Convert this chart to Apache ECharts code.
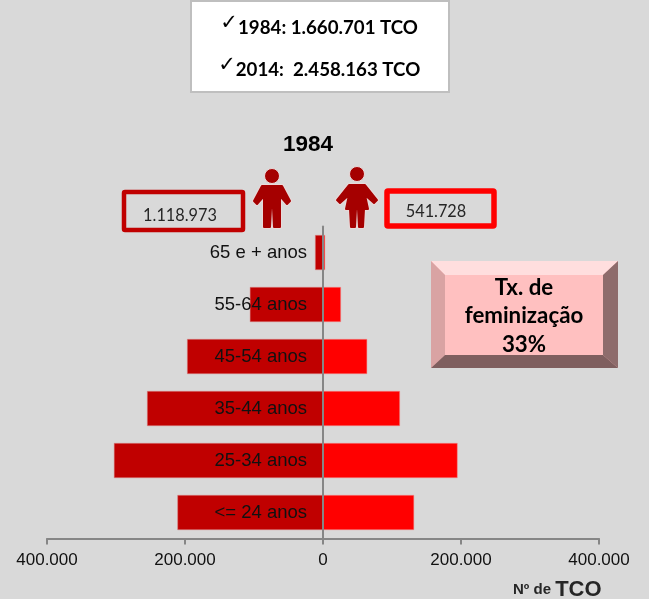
<!DOCTYPE html>
<html>
<head>
<meta charset="utf-8">
<style>
  html, body { margin: 0; padding: 0; background: #d9d9d9; }
  #chart { width: 649px; height: 599px; }
</style>
<script src="https://cdn.jsdelivr.net/npm/echarts@6/dist/echarts.min.js"></script>
</head>
<body>
<div id="chart"></div>
<script>
var categories = ['65 e + anos', '55-64 anos', '45-54 anos', '35-44 anos', '25-34 anos', '<= 24 anos']
var homens = [11500, 106000, 197000, 255000, 303000, 211000]
var mulheres = [3000, 26000, 64000, 111500, 195000, 132000]
var xTicks = [-400000, -200000, 0, 200000, 400000]
var totalHomens = '1.118.973'
var totalMulheres = '541.728'

function fmt(v) {
  var s = String(Math.abs(v))
  return s.replace(/\B(?=(\d{3})+$)/g, '.')
}

function box(x, y, w, h, color, lw) {
  return {
    type: 'rect',
    shape: { x: x, y: y, width: w, height: h, r: 1 },
    style: { fill: 'none', stroke: color, lineWidth: lw }
  }
}

function txt(x, y, text, font, color, align) {
  return {
    type: 'text',
    x: x,
    y: y,
    style: { text: text, font: font, fill: color || '#000', align: align || 'center', verticalAlign: 'middle' }
  }
}

function poly(points, fill) {
  return { type: 'polygon', shape: { points: points }, style: { fill: fill } }
}

var iconColor = '#a50000'
var iconHalo = '#eadada'

// silhueta: halo claro por baixo e forma por cima
function figure(cx, cy, body) {
  var points = body.map(function (p) { return [cx + p[0], p[1]] })
  return [
    { type: 'circle', shape: { cx: cx, cy: cy, r: 7.5 }, style: { fill: iconColor, stroke: iconHalo, lineWidth: 1 } },
    { type: 'polygon', shape: { points: points }, style: { fill: iconHalo, stroke: iconHalo, lineWidth: 4, lineJoin: 'round' } },
    { type: 'polygon', shape: { points: points }, style: { fill: iconColor, stroke: iconColor, lineWidth: 2, lineJoin: 'round' } }
  ]
}

var manBody = [[-10, 186], [10, 186], [18, 201], [15, 204], [8, 196], [8, 227], [2, 227], [1, 208], [-1, 208], [-2, 227], [-8, 227], [-8, 196], [-15, 204], [-18, 201]]
var womanBody = [[-8, 185], [8, 185], [20, 200], [17, 203], [8, 195], [11, 209], [7, 209], [6, 227], [2, 227], [1, 209], [-1, 209], [-2, 227], [-6, 227], [-7, 209], [-11, 209], [-8, 195], [-17, 203], [-20, 200]]

var chart = echarts.init(document.getElementById('chart'))

chart.setOption({
  backgroundColor: '#d9d9d9',
  animation: false,
  grid: { left: 47, top: 226.5, width: 552, height: 312, outerBoundsMode: 'none' },
  xAxis: {
    type: 'value',
    min: xTicks[0],
    max: xTicks[xTicks.length - 1],
    interval: 200000,
    splitLine: { show: false },
    axisLine: { show: true, lineStyle: { color: '#868686', width: 2 } },
    axisTick: { show: true, length: 6, lineStyle: { color: '#868686', width: 2 } },
    axisLabel: {
      formatter: fmt,
      margin: 13,
      color: '#111',
      fontFamily: 'Liberation Sans',
      fontSize: 17,
      showMinLabel: true,
      showMaxLabel: true
    }
  },
  yAxis: {
    type: 'category',
    data: categories,
    inverse: true,
    z: 5,
    axisLine: { show: true, lineStyle: { color: '#868686', width: 2 } },
    axisTick: { show: false },
    axisLabel: {
      // rotulos junto ao eixo do zero, por cima das barras
      margin: -260,
      padding: [3, 0, 0, 0],
      color: '#111',
      fontFamily: 'Liberation Sans',
      fontSize: 18.5
    }
  },
  series: [
    {
      name: 'Homens',
      type: 'bar',
      stack: 'total',
      data: homens.map(function (v) { return -v }),
      barWidth: 35,
      itemStyle: { color: '#c00000', borderColor: '#d88a8a', borderWidth: 0.5 }
    },
    {
      name: 'Mulheres',
      type: 'bar',
      stack: 'total',
      data: mulheres,
      barWidth: 35,
      itemStyle: { color: '#ff0000', borderColor: '#f09090', borderWidth: 0.5 }
    }
  ],
  graphic: [
    {
      type: 'rect',
      shape: { x: 191, y: 1, width: 258, height: 91 },
      style: { fill: '#fff', stroke: '#bfbfbf', lineWidth: 2 }
    },
    txt(229, 24, '✓', '21px "DejaVu Sans"'),
    txt(328, 28, '1984: 1.660.701 TCO', 'bold 18.7px Lato'),
    txt(227, 66, '✓', '21px "DejaVu Sans"'),
    txt(328, 70, '2014:  2.458.163 TCO', 'bold 18.7px Lato'),
    txt(308, 145, '1984', 'bold 22.5px "Liberation Sans"'),
    box(124, 192, 119, 38, '#c00000', 4.5),
    box(387, 191, 107, 35, '#ff0000', 5.5),
    txt(180, 216, totalHomens, '16.3px Lato', '#262626'),
    txt(436, 212, totalMulheres, '16.3px Lato', '#262626')
  ]
    .concat(figure(272, 176, manBody))
    .concat(figure(357, 174, womanBody))
    .concat([
      // caixa biselada
      { type: 'rect', shape: { x: 431, y: 261, width: 187, height: 107 }, style: { fill: '#ffc0c0' } },
      poly([[431, 261], [618, 261], [603, 275], [445, 275]], '#ffdede'),
      poly([[431, 261], [445, 275], [445, 355], [431, 368]], '#d9a3a3'),
      poly([[618, 261], [603, 275], [603, 355], [618, 368]], '#8e6c6c'),
      poly([[431, 368], [445, 355], [603, 355], [618, 368]], '#7f5f5f'),
      txt(524, 288, 'Tx. de', 'bold 22.3px Lato'),
      txt(524, 316, 'feminização', 'bold 22.3px Lato'),
      txt(524, 345, '33%', 'bold 22.3px Lato'),
      {
        type: 'text',
        x: 513,
        y: 590,
        style: {
          text: '{a|Nº de }{b|TCO}',
          align: 'left',
          verticalAlign: 'middle',
          rich: {
            a: { font: 'bold 15px "Liberation Sans"', fill: '#262626' },
            b: { font: 'bold 22px "Liberation Sans"', fill: '#262626' }
          }
        }
      }
    ])
})
</script>
</body>
</html>
